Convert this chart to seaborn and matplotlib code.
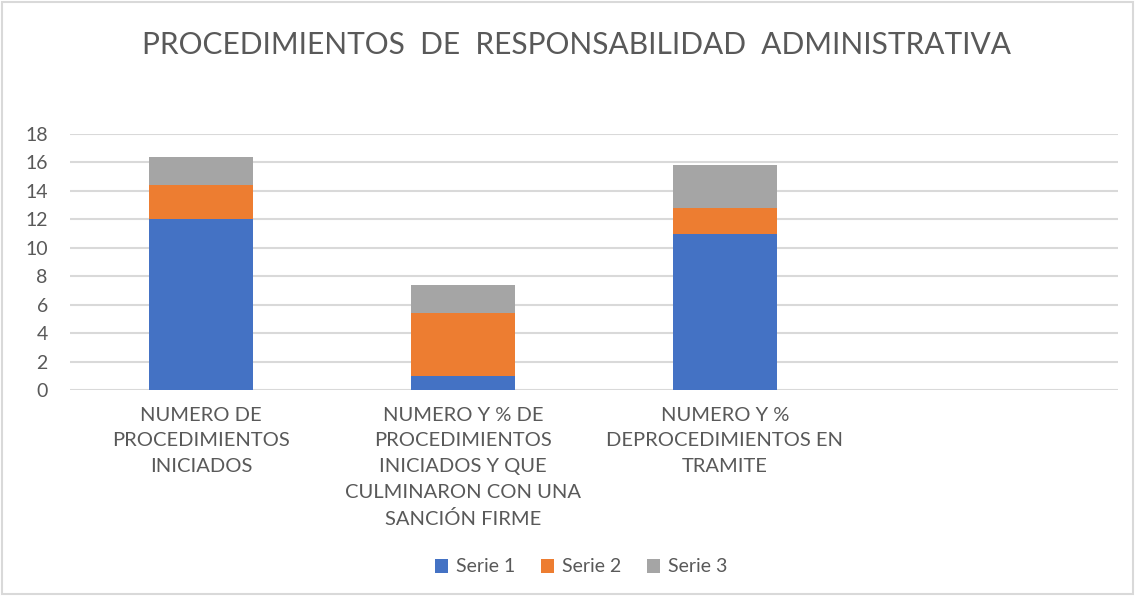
import matplotlib
matplotlib.use('Agg')
import matplotlib.pyplot as plt
from matplotlib.patches import Rectangle, Patch
import seaborn as sns
import pandas as pd
import numpy as np

categories = ['NUMERO DE\nPROCEDIMIENTOS\nINICIADOS',
              'NUMERO Y % DE\nPROCEDIMIENTOS\nINICIADOS Y QUE\nCULMINARON CON UNA\nSANCIÓN FIRME',
              'NUMERO Y %\nDEPROCEDIMIENTOS EN\nTRAMITE']
serie1 = [12, 1, 11]
serie2 = [2.4, 4.4, 1.8]
serie3 = [2.0, 2.0, 3.0]
series_names = ['Serie 1', 'Serie 2', 'Serie 3']
colors = ['#4472C4', '#ED7D31', '#A5A5A5']
yticks = [0, 2, 4, 6, 8, 10, 12, 14, 16, 18]

sns.set_theme(style='white')
plt.rcParams['font.family'] = ['Lato', 'DejaVu Sans']
text_color = '#595959'

df = pd.DataFrame({'cat': categories, 's1': serie1, 's2': serie2, 's3': serie3})
df['top2'] = df['s1'] + df['s2']
df['top3'] = df['top2'] + df['s3']

fig = plt.figure(figsize=(11.35, 5.96), dpi=100)
ax = fig.add_axes([70 / 1135, 1 - 390 / 596, 1048 / 1135, 256 / 596])

# stacked by overlaying cumulative totals
sns.barplot(data=df, x='cat', y='top3', color=colors[2], width=0.4, ax=ax, saturation=1, zorder=3, linewidth=0)
sns.barplot(data=df, x='cat', y='top2', color=colors[1], width=0.4, ax=ax, saturation=1, zorder=3, linewidth=0)
sns.barplot(data=df, x='cat', y='s1', color=colors[0], width=0.4, ax=ax, saturation=1, zorder=3, linewidth=0)

ax.set_xlim(-0.5, 3.5)
ax.set_ylim(0, 18)
ax.set_yticks(yticks)
ax.yaxis.grid(True, color='#D9D9D9', linewidth=1.5, zorder=0)
ax.set_axisbelow(True)
for s in ax.spines.values():
    s.set_visible(False)
ax.set_xlabel('')
ax.set_ylabel('')
ax.tick_params(axis='y', labelsize=14, colors=text_color, length=0, pad=16)
ax.tick_params(axis='x', labelsize=14.5, colors=text_color, length=0, pad=12)
ax.set_xticks(range(3))
ax.set_xticklabels(categories, linespacing=1.62)

fig.text(577 / 1135, 1 - 45 / 596, 'PROCEDIMIENTOS  DE  RESPONSABILIDAD  ADMINISTRATIVA',
         ha='center', va='center', fontsize=21.5, color=text_color)

handles = [Patch(facecolor=c, edgecolor='none') for c in colors]
fig.legend(handles, series_names, loc='center', bbox_to_anchor=(581 / 1135, 1 - 567 / 596),
           ncol=3, frameon=False, fontsize=14, handlelength=0.7, handleheight=0.7,
           handletextpad=0.4, columnspacing=1.3, labelcolor=text_color)

fig.patches.append(Rectangle((0.002, 0.003), 0.996, 0.994, transform=fig.transFigure,
                             fill=False, edgecolor='#D9D9D9', linewidth=1.5))

fig.savefig('out.png', dpi=100)
